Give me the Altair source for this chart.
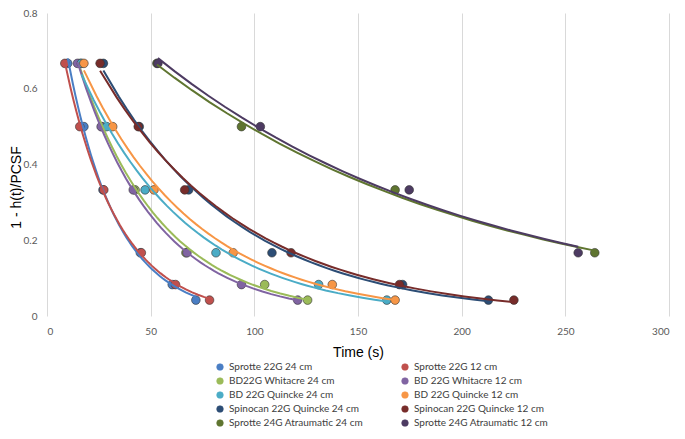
import altair as alt
import pandas as pd

SERIES = [
    "Sprotte 22G 24 cm",
    "Sprotte 22G 12 cm",
    "BD22G Whitacre 24 cm",
    "BD 22G Whitacre 12 cm",
    "BD 22G Quincke 24 cm",
    "BD 22G Quincke 12 cm",
    "Spinocan 22G Quincke 24 cm",
    "Spinocan 22G Quincke 12 cm",
    "Sprotte 24G Atraumatic 24 cm",
    "Sprotte 24G Atraumatic 12 cm",
]
COLORS = ["#4A7EC4", "#C0504D", "#9BBB59", "#8064A2", "#4BACC6",
          "#F79646", "#2C4D75", "#772C2A", "#5F7530", "#4D3B62"]

Y_LEVELS = [0.667, 0.5, 0.333, 0.167, 0.083, 0.042]

T_SPROTTE22_24 = [10.0, 17.8, 27.0, 45.0, 60.4, 71.8]
T_SPROTTE22_12 = [8.6, 15.8, 27.4, 45.5, 62.0, 78.4]
T_WHIT_24 = [16.0, 26.5, 42.5, 67.0, 105.0, 125.7]
T_WHIT_12 = [14.7, 26.1, 41.6, 67.5, 93.8, 120.9]
T_QUIN_24 = [16.6, 28.8, 47.3, 81.5, 131.0, 163.9]
T_QUIN_12 = [17.8, 31.7, 51.6, 89.8, 137.6, 167.9]
T_SPIN_24 = [27.2, 44.5, 68.3, 108.5, 171.5, 212.9]
T_SPIN_12 = [25.6, 44.0, 66.4, 117.7, 170.0, 225.2]
T_SP24_24 = [53.0, 93.8, 167.9, 264.2]
T_SP24_12 = [53.5, 102.9, 174.7, 256.2]

TIMES = [T_SPROTTE22_24, T_SPROTTE22_12, T_WHIT_24, T_WHIT_12, T_QUIN_24,
         T_QUIN_12, T_SPIN_24, T_SPIN_12, T_SP24_24, T_SP24_12]

rows = []
for i, (name, ts) in enumerate(zip(SERIES, TIMES)):
    for t, v in zip(ts, Y_LEVELS):
        rows.append({"series": name, "order": i, "t": t, "v": v})
df = pd.DataFrame(rows)

color_scale = alt.Scale(domain=SERIES, range=COLORS)
x_enc = alt.X("t:Q", title="Time (s)",
              scale=alt.Scale(domain=[0, 300], nice=False),
              axis=alt.Axis(values=[0, 50, 100, 150, 200, 250, 300],
                            grid=True, gridColor="#D9D9D9", domain=False,
                            ticks=False, labelPadding=10, labelColor="#595959",
                            labelFont="Lato", labelFontSize=10,
                            titleFont="Liberation Sans", titleFontSize=14,
                            titleFontWeight="normal", titleColor="#000000",
                            titlePadding=9))
y_enc = alt.Y("v:Q", title="1 - h(t)/PCSF",
              scale=alt.Scale(domain=[0, 0.8], nice=False),
              axis=alt.Axis(values=[0, 0.1, 0.2, 0.3, 0.4, 0.5, 0.6, 0.7, 0.8],
                            format=".1~f", grid=False, domain=False,
                            ticks=False, labelPadding=10, labelColor="#595959",
                            labelFont="Lato", labelFontSize=10,
                            titleFont="Liberation Sans", titleFontSize=14,
                            titleFontWeight="normal", titleColor="#000000",
                            titleX=-31, titleY=174, titleAngle=270,
                            titleBaseline="middle", titleAlign="center"))

points = alt.Chart(df).mark_point(filled=True, size=75, opacity=1,
                                  stroke="#333333", strokeWidth=0.6).encode(
    x=x_enc, y=y_enc,
    color=alt.Color("series:N", scale=color_scale, sort=SERIES,
                    legend=alt.Legend(title=None, orient="none", columns=2,
                                      direction="horizontal",
                                      legendX=168, legendY=349,
                                      symbolType="circle", symbolSize=45,
                                      labelFont="Lato", labelFontSize=10,
                                      labelColor="#404040",
                                      columnPadding=37, rowPadding=4,
                                      symbolStrokeWidth=0.5)),
    order="order:Q",
)

lines = alt.Chart(df).transform_regression(
    "t", "v", method="exp", groupby=["series"]
).mark_line(strokeWidth=2).encode(
    x="t:Q", y="v:Q",
    color=alt.Color("series:N", scale=color_scale, legend=None),
)

chart = alt.layer(points, lines).properties(
    width=622, height=303,
    autosize=alt.AutoSizeParams(type="none"),
    padding={"left": 39, "top": 5, "right": 8, "bottom": 112},
).configure_view(stroke=None)

chart.save("out.html", embed_options={"renderer": "svg", "actions": False})
